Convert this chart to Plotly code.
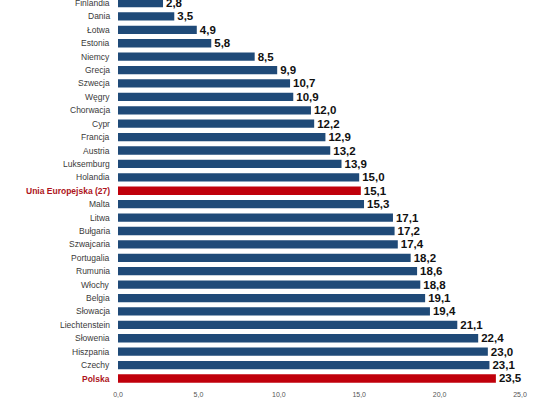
import plotly.graph_objects as go

countries = ["Finlandia", "Dania", "Łotwa", "Estonia", "Niemcy", "Grecja", "Szwecja", "Węgry",
             "Chorwacja", "Cypr", "Francja", "Austria", "Luksemburg", "Holandia",
             "Unia Europejska (27)", "Malta", "Litwa", "Bułgaria", "Szwajcaria", "Portugalia",
             "Rumunia", "Włochy", "Belgia", "Słowacja", "Liechtenstein", "Słowenia",
             "Hiszpania", "Czechy", "Polska"]
values = [2.8, 3.5, 4.9, 5.8, 8.5, 9.9, 10.7, 10.9, 12.0, 12.2, 12.9, 13.2, 13.9, 15.0,
          15.1, 15.3, 17.1, 17.2, 17.4, 18.2, 18.6, 18.8, 19.1, 19.4, 21.1, 22.4, 23.0, 23.1, 23.5]
highlight = ["Unia Europejska (27)", "Polska"]
x_ticks = [0, 5, 10, 15, 20, 25]
x_tick_labels = ["0,0", "5,0", "10,0", "15,0", "20,0", "25,0"]

BLUE = "#1f4a78"
RED = "#c0000b"
LABEL_RED = "#ad1420"

colors = [RED if c in highlight else BLUE for c in countries]
labels = [f"{v:.1f}".replace(".", ",") for v in values]
idx = list(range(len(countries)))

fig = go.Figure(go.Bar(
    x=values, y=idx, orientation="h",
    marker=dict(color=colors, line=dict(width=0)),
    width=0.62,
    text=labels, textposition="outside",
    textfont=dict(family="Liberation Sans, Arial", size=11.5, color="#111111"),
    texttemplate="<b>%{text}</b>",
    constraintext="none",
    cliponaxis=False,
    hoverinfo="skip",
))

for i, c in enumerate(countries):
    if c in highlight:
        txt = f"<b>{c}</b>"
        col = LABEL_RED
    else:
        txt = c
        col = "#3a3a3a"
    fig.add_annotation(x=0, y=i, xref="x", yref="y", text=txt, showarrow=False,
                       xanchor="right", yanchor="middle", xshift=-6,
                       font=dict(family="Liberation Sans, Arial", size=8.5, color=col))

fig.update_layout(
    width=540, height=407,
    margin=dict(l=118, r=20, t=0, b=22, autoexpand=False),
    paper_bgcolor="white", plot_bgcolor="white",
    showlegend=False,
    xaxis=dict(range=[0, 25], tickvals=x_ticks, ticktext=x_tick_labels,
               showgrid=False, zeroline=False, showline=False, automargin=False,
               tickfont=dict(family="Liberation Sans, Arial", size=7, color="#555555"),
               ticks="outside", ticklen=3, tickcolor="white"),
    yaxis=dict(range=[28.485, -0.224], showticklabels=False,
               showgrid=False, zeroline=False, showline=False, automargin=False),
)

fig.write_html("out.html", config={"displayModeBar": False},
               post_script="document.body.style.margin='0';document.body.style.padding='0';")
